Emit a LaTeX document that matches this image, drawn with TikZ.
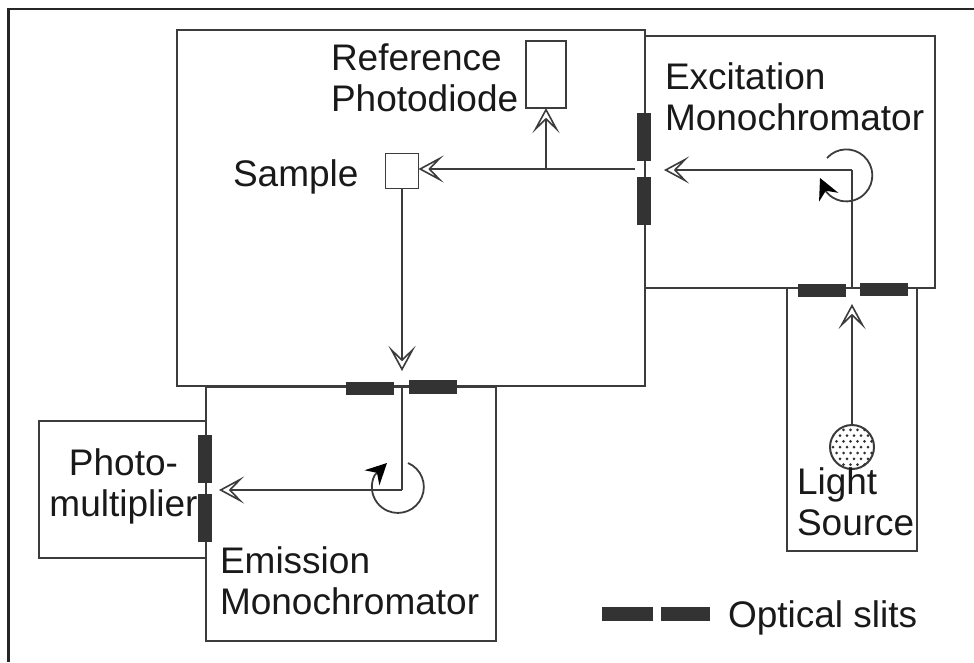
\documentclass[tikz,border=0pt]{standalone}
\usepackage{fontspec}
\setmainfont{Liberation Sans}
\usetikzlibrary{arrows.meta}
\definecolor{linegray}{HTML}{3C3C3C}
\definecolor{slitgray}{HTML}{333333}
\tikzset{
	box/.style={draw=linegray,line width=1.8pt,inner sep=0pt,outer sep=0pt},
	slit/.style={fill=slitgray,draw=none,inner sep=0pt,outer sep=0pt},
	hslit/.style={slit,minimum width=48pt,minimum height=13.5pt},
	vslit/.style={slit,minimum width=13.5pt,minimum height=48pt},
	ray/.style={draw=linegray,line width=1.8pt,-{Stealth[open,fill=white,length=25pt,width=27pt,inset=13pt,line width=1.6pt]}},
	beam/.style={draw=linegray,line width=1.8pt},
	turn/.style={draw=linegray,line width=1.8pt,-{Stealth[length=21pt,width=21pt,inset=7pt,black]}},
	label/.style={inner sep=0pt,outer sep=0pt,align=left,text=black!90,font=\fontsize{37}{41}\selectfont},
}
\begin{document}
\begin{tikzpicture}[x=1pt,y=-1pt]
	\useasboundingbox (0,0) rectangle (974,662);
	% outer frame, open at right and bottom
	\coordinate (framebl) at (8.5,662);
	\coordinate (frametl) at (8.5,9);
	\coordinate (frametr) at (974,9);
	\draw[black!85,line width=2.5pt] (framebl) -- (frametl) -- (frametr);
	% chambers
	\node[box,minimum width=290pt,minimum height=252pt] (excitation) at (790,162) {};
	\node[box,minimum width=130pt,minimum height=263pt] (lamphouse) at (852,419.5) {};
	\node[box,minimum width=290pt,minimum height=254pt] (emission) at (351,514) {};
	\node[box,minimum width=167pt,minimum height=137pt] (pmt) at (122.5,489.5) {};
	\node[box,fill=white,minimum width=468pt,minimum height=356pt] (chamber) at (411,208) {};
	\node[box,minimum width=40pt,minimum height=67pt] (refdiode) at (546,74.5) {};
	\node[box,minimum width=33pt,minimum height=35pt] (sample) at (402,171) {};
	% beam path
	\coordinate (excturn) at (852,170);
	\coordinate (excslit) at (852,288);
	\coordinate (split) at (546,169);
	\coordinate (chamberin) at (635,169);
	\coordinate (excout) at (664,170);
	\coordinate (sampleout) at (402,371);
	\coordinate (emislit) at (402,388);
	\coordinate (emiturn) at (402,490);
	\coordinate (pmtin) at (219,490);
	\coordinate (lampup) at (852,304);
	\node[circle,draw=linegray,line width=2pt,minimum size=44pt,inner sep=0pt,outer sep=0pt] (lamp) at (852,447) {};
	\begin{scope}
		\clip (852,447) circle[radius=22pt];
		\foreach \row in {0,...,8}{
			\foreach \col in {0,...,7}{
				\fill[black!80] ({826+\col*7+mod(\row,2)*3.5},{424+\row*5.8}) circle[radius=1.5pt];
			}
		}
	\end{scope}
	\draw[ray] (lamp.north) -- (lampup);
	\draw[beam] (excslit) -- (excturn);
	\draw[ray] (excturn) -- (excout);
	\draw[ray] (chamberin) -- (chamberin -| sample.east);
	\draw[ray] (split) -- (split |- refdiode.south);
	\draw[ray] (sample.south) -- (sampleout);
	\draw[beam] (emislit) -- (emiturn);
	\draw[ray] (emiturn) -- (pmtin);
	% rotation marks
	\coordinate (exctip) at (820,178);
	\coordinate (emitip) at (387,463);
	\draw[turn] (827,158) arc[start angle=138,end angle=-140,radius=26pt] -- (exctip);
	\draw[turn] (408,463) arc[start angle=67,end angle=-207,radius=26pt] -- (emitip);
	% slits
	\node[vslit] (slita) at (644,136.5) {};
	\node[vslit] (slitb) at (644,200.5) {};
	\node[hslit] (slitc) at (822,290.5) {};
	\node[hslit] (slitd) at (884,289.5) {};
	\node[hslit] (slite) at (370,388.5) {};
	\node[hslit] (slitf) at (433,387) {};
	\node[vslit] (slitg) at (205,459) {};
	\node[vslit] (slith) at (205,517.5) {};
	\node[hslit,minimum width=51pt] (keya) at (627.5,614) {};
	\node[hslit,minimum width=49pt] (keyb) at (685.5,614) {};
	% labels
	\node[label,anchor=west] (reflabel) at (331,78) {Reference\\Photodiode};
	\node[label,anchor=west] (samplelabel) at (233,177) {Sample};
	\node[label,anchor=west] (exclabel) at (665,97) {Excitation\\Monochromator};
	\node[label,anchor=west] (emilabel) at (220,581) {Emission\\Monochromator};
	\node[label,align=center] (pmtlabel) at (123.5,486) {Photo-\\multiplier};
	\node[label,anchor=west] (lamplabel) at (797,502) {Light\\Source};
	\node[label,anchor=west] (keylabel) at (728,618) {Optical slits};
\end{tikzpicture}
\end{document}
